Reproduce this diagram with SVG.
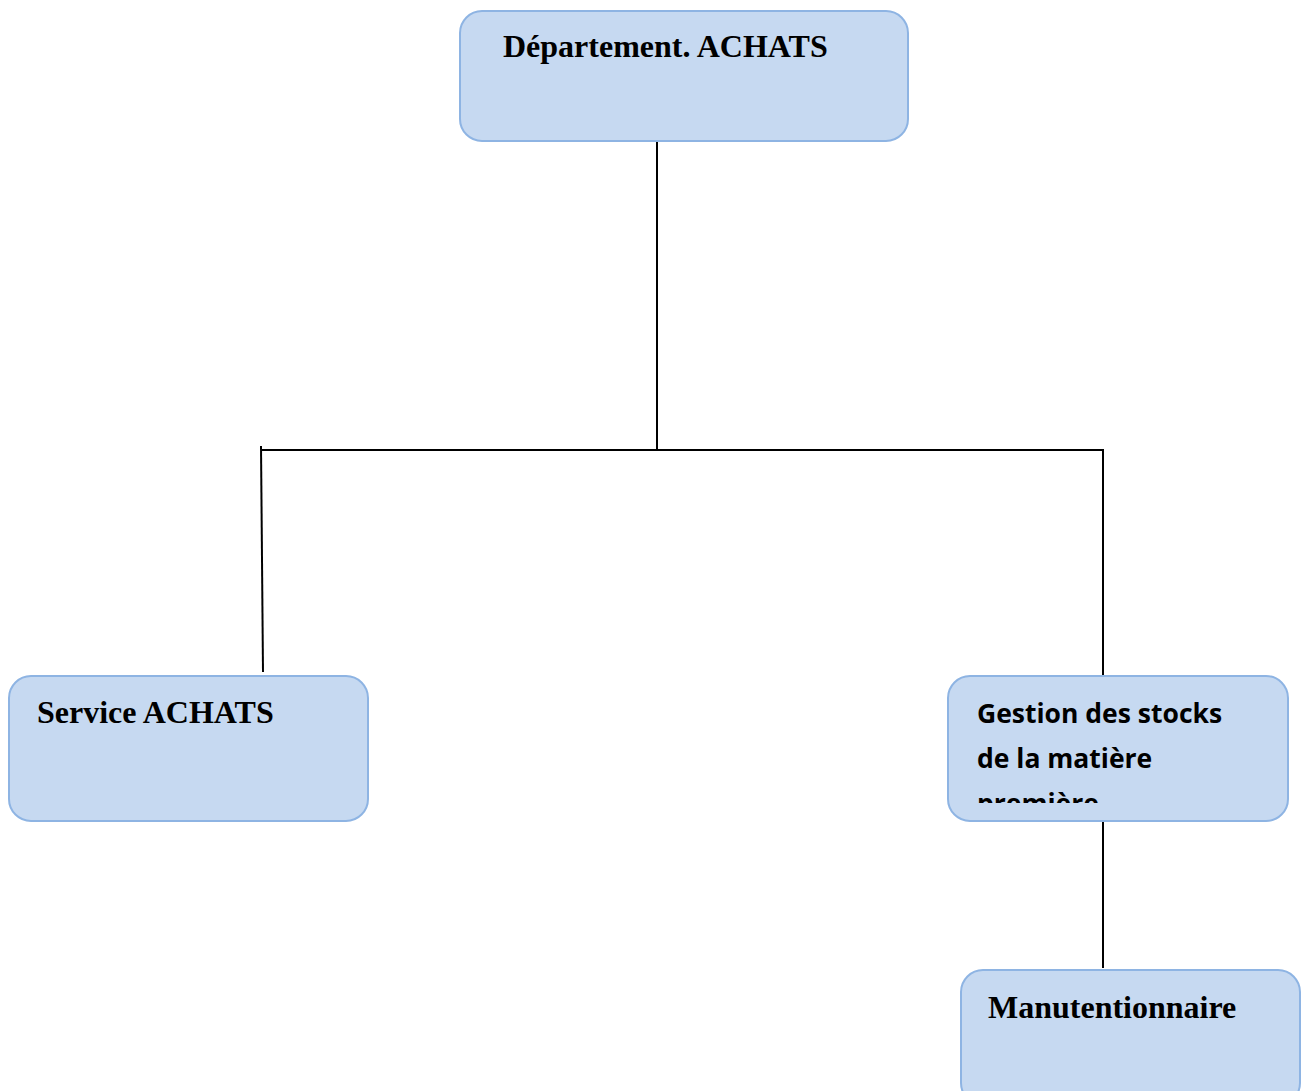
<svg xmlns="http://www.w3.org/2000/svg" width="1301" height="1091" viewBox="0 0 1301 1091">
  <style>
    .box { fill: #c6d9f1; stroke: #8eb4e3; stroke-width: 2; }
    .serif { font-family: "Liberation Serif", "Times New Roman", serif; font-weight: bold; font-size: 32px; fill: #000; }
    .sans { font-family: "Open Sans", "Noto Sans", sans-serif; font-weight: bold; font-size: 26.5px; fill: #000; }
    .link { stroke: #000; stroke-width: 2; fill: none; }
  </style>
  <defs>
    <clipPath id="clip-stocks">
      <rect x="948" y="676" width="340" height="127"/>
    </clipPath>
  </defs>

  <g id="connectors">
    <line class="link" x1="657" y1="141" x2="657" y2="450"/>
    <line class="link" x1="261" y1="450" x2="1103" y2="450"/>
    <line class="link" x1="261" y1="446" x2="263" y2="672"/>
    <line class="link" x1="1103" y1="449" x2="1103" y2="676"/>
    <line class="link" x1="1103" y1="821" x2="1103" y2="968"/>
  </g>

  <g id="departement-achats">
    <rect class="box" x="460" y="11" width="448" height="130" rx="22"/>
    <text class="serif" x="503" y="57">Département. ACHATS</text>
  </g>

  <g id="service-achats">
    <rect class="box" x="9" y="676" width="359" height="145" rx="22"/>
    <text class="serif" x="37" y="723">Service ACHATS</text>
  </g>

  <g id="gestion-stocks">
    <rect class="box" x="948" y="676" width="340" height="145" rx="22"/>
    <g clip-path="url(#clip-stocks)">
      <text class="sans" x="977" y="723">Gestion des stocks</text>
      <text class="sans" x="977" y="768">de la matière</text>
      <text class="sans" x="977" y="813">première</text>
    </g>
  </g>

  <g id="manutentionnaire">
    <rect class="box" x="961" y="970" width="339" height="135" rx="22"/>
    <text class="serif" x="988" y="1018">Manutentionnaire</text>
  </g>
</svg>
